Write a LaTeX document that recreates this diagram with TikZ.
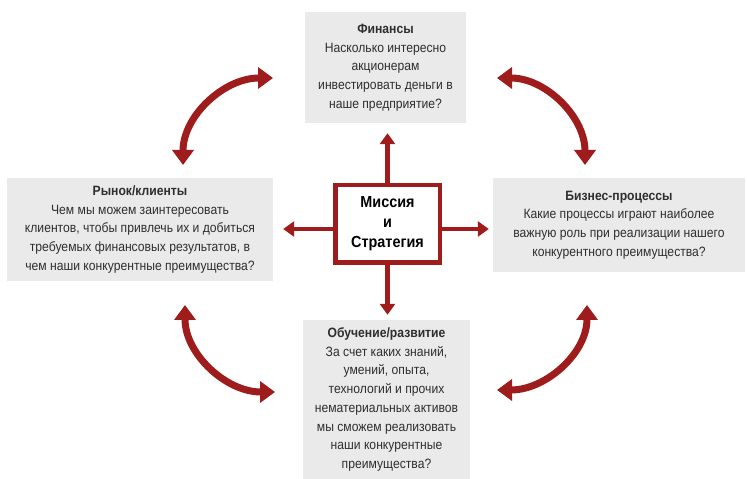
\documentclass[tikz,border=0pt]{standalone}
\usepackage{fontspec}
\setmainfont[FakeStretch=0.9]{Liberation Sans}
\usetikzlibrary{calc, arrows.meta, positioning}
\definecolor{bscred}{HTML}{9E1C1C}
\definecolor{bscgray}{HTML}{EAEAEA}
\definecolor{bsctext}{HTML}{2E2E2E}

\begin{document}
\begin{tikzpicture}[x=1pt, y=1pt,
    bscbox/.style={fill=bscgray, text=bsctext, align=center, inner sep=0pt,
        font=\fontsize{13.5}{18.7}\selectfont},
    spoke/.style={bscred, line width=4.5pt, -{Triangle[width=15pt,length=11pt]}},
    swing/.style={bscred, line width=7pt,
        {Triangle[width=21pt,length=15pt]}-{Triangle[width=21pt,length=15pt]}}]
            \useasboundingbox[fill=white] (0,0) rectangle (747,479);

            % Finance
            \node[bscbox, minimum width=161pt, minimum height=111pt] (fin) at (385.5,411.5)
                {\textbf{Финансы}\\Насколько интересно\\акционерам\\инвестировать деньги в\\наше предприятие?};

            % Customers
            \node[bscbox, minimum width=266pt, minimum height=103pt] (mkt) at (140,249.5)
                {\textbf{Рынок/клиенты}\\Чем мы можем заинтересовать\\клиентов, чтобы привлечь их и добиться\\требуемых финансовых результатов, в\\чем наши конкурентные преимущества?};

            % Processes
            \node[bscbox, minimum width=252pt, minimum height=94pt] (proc) at (619,254)
                {\textbf{Бизнес-процессы}\\Какие процессы играют наиболее\\важную роль при реализации нашего\\конкурентного преимущества?};

            % Learning
            \node[bscbox, minimum width=167pt, minimum height=159pt] (learn) at (386.5,79.5)
                {\textbf{Обучение/развитие}\\За счет каких знаний,\\умений, опыта,\\технологий и прочих\\нематериальных активов\\мы сможем реализовать\\наши конкурентные\\преимущества?};

            % spokes from the centre
            \draw[spoke, shorten >=10pt] (387.5,255) -- (387.5,255 |- fin.south);
            \draw[spoke, shorten >=5pt] (387.5,255) -- (387.5,255 |- learn.north);
            \draw[spoke, shorten >=10pt] (387.5,250) -- (387.5,250 -| mkt.east);
            \draw[spoke, shorten >=4pt] (387.5,250) -- (387.5,250 -| proc.west);

            % Mission
            \node[draw=bscred, line width=4.5pt, fill=white, minimum width=104.5pt,
                minimum height=77.5pt, align=center, inner sep=0pt,
                font=\fontsize{16}{20}\selectfont\bfseries] (mis) at (387.5,255)
                {Миссия\\и\\Стратегия};

            % ends of the curved arrows
            \coordinate (finL) at (273,401);
            \coordinate (finR) at (497,401);
            \coordinate (mktT) at (183,314);
            \coordinate (mktB) at (185,174);
            \coordinate (procT) at (585,314);
            \coordinate (procB) at (587,174);
            \coordinate (learnL) at (275,87);
            \coordinate (learnR) at (497,89);

            \draw[swing] (finL) to[out=180, in=90] (mktT);
            \draw[swing] (finR) to[out=0, in=90] (procT);
            \draw[swing] (mktB) to[out=-90, in=180] (learnL);
            \draw[swing] (procB) to[out=-90, in=0] (learnR);
        \end{tikzpicture}
\end{document}
